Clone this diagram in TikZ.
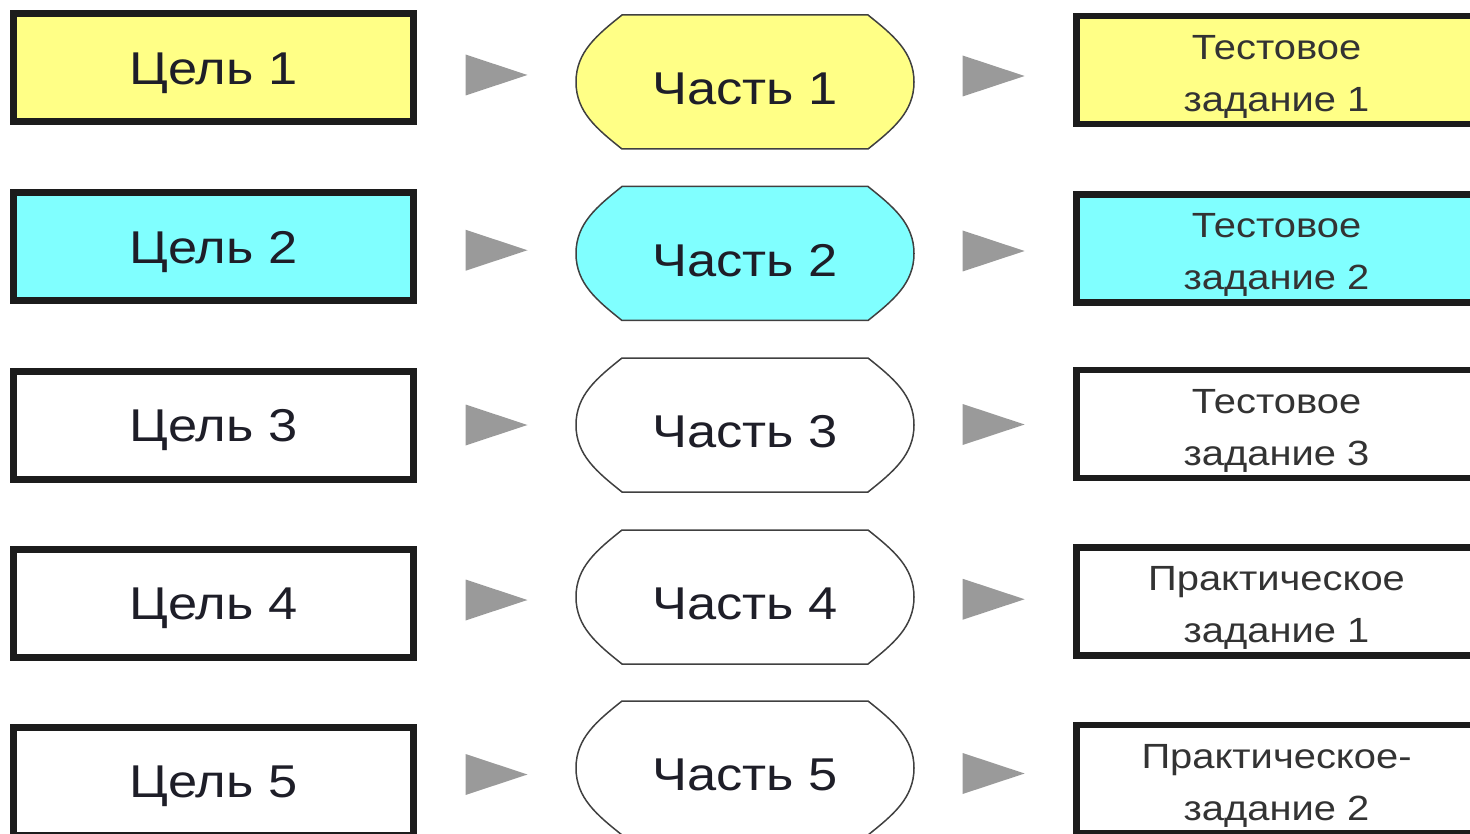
\documentclass[tikz,border=0pt]{standalone}
\usepackage{fontspec}
\setmainfont{Liberation Sans}
\usetikzlibrary{calc,backgrounds}
\definecolor{yel}{HTML}{FFFF86}
\definecolor{cya}{HTML}{80FFFF}
\definecolor{frame}{HTML}{1C1C1C}
\definecolor{txt}{HTML}{1E1E28}
\definecolor{txtb}{HTML}{333333}
\definecolor{arr}{HTML}{9A9A9A}
\newcommand{\hstretch}[1]{\scalebox{1.14}[1]{#1}}
\newcommand{\goaltxt}[1]{\raisebox{-5pt}[\height][\depth]{\hstretch{#1}}}
\newcommand{\parttxt}[1]{\raisebox{-7pt}[\height][\depth]{\hstretch{#1}}}
\newcommand{\tasktxt}[2]{\raisebox{-5pt}[\height][\depth]{\hstretch{\begin{tabular}{@{}c@{}}#1\\#2\end{tabular}}}}
\newcommand{\partoutline}[2]{%
  \begin{pgfonlayer}{background}
  \draw[partline,fill=#2]
    ($(#1.north west)+(46,0)$) -- ($(#1.north east)+(-46,0)$)
    .. controls ($(#1.north east)+(-21,20)$) and ($(#1.east)+(0,-30)$) .. (#1.east)
    .. controls ($(#1.east)+(0,30)$) and ($(#1.south east)+(-21,-20)$) .. ($(#1.south east)+(-46,0)$)
    -- ($(#1.south west)+(46,0)$)
    .. controls ($(#1.south west)+(21,-20)$) and ($(#1.west)+(0,30)$) .. (#1.west)
    .. controls ($(#1.west)+(0,-30)$) and ($(#1.north west)+(21,20)$) .. ($(#1.north west)+(46,0)$)
    -- cycle;
  \end{pgfonlayer}}
\newcommand{\arrowtri}[1]{%
  \fill[arr] ($(#1)+(-31,-20.5)$) -- ($(#1)+(31,0)$) -- ($(#1)+(-31,20.5)$) -- cycle;}
\begin{document}
\begin{tikzpicture}[x=1pt,y=-1pt,
  goalbox/.style={draw=frame,line width=7pt,minimum width=400pt,minimum height=108pt,
    inner sep=0pt,outer sep=3.5pt,text=txt,font=\fontsize{46}{50}\selectfont},
  taskbox/.style={draw=frame,line width=6.5pt,minimum width=400pt,minimum height=108pt,
    inner sep=0pt,outer sep=3.25pt,text=txtb,align=center,font=\fontsize{35}{52}\selectfont},
  partnode/.style={minimum width=338pt,minimum height=134pt,inner sep=0pt,outer sep=0pt,
    text=txt,font=\fontsize{46}{50}\selectfont},
  partline/.style={draw=black!75,line width=1.5pt}]
\useasboundingbox (0,0) rectangle (1470,834);
\clip (0,0) rectangle (1470,834);

\node[goalbox,fill=yel] (c1) at (213.5,68) {\goaltxt{Цель 1}};
\node[goalbox,fill=cya] (c2) at (213.5,247) {\goaltxt{Цель 2}};
\node[goalbox,fill=white] (c3) at (213.5,425) {\goaltxt{Цель 3}};
\node[goalbox,fill=white] (c4) at (213.5,603) {\goaltxt{Цель 4}};
\node[goalbox,fill=white] (c5) at (213.5,781) {\goaltxt{Цель 5}};

\node[partnode] (p1) at (745,82) {\parttxt{Часть 1}};
\node[partnode] (p2) at (745,253.5) {\parttxt{Часть 2}};
\node[partnode] (p3) at (745,425) {\parttxt{Часть 3}};
\node[partnode] (p4) at (745,597) {\parttxt{Часть 4}};
\node[partnode] (p5) at (745,768) {\parttxt{Часть 5}};
\partoutline{p1}{yel}
\partoutline{p2}{cya}
\partoutline{p3}{white}
\partoutline{p4}{white}
\partoutline{p5}{white}

\node[taskbox,fill=yel] (t1) at (1276.5,70) {\tasktxt{Тестовое}{задание 1}};
\node[taskbox,fill=cya] (t2) at (1276.5,248.5) {\tasktxt{Тестовое}{задание 2}};
\node[taskbox,fill=white] (t3) at (1276.5,424) {\tasktxt{Тестовое}{задание 3}};
\node[taskbox,fill=white] (t4) at (1276.5,601.5) {\tasktxt{Практическое}{задание 1}};
\node[taskbox,fill=white] (t5) at (1276.5,779) {\tasktxt{Практическое-}{задание 2}};

\foreach \i in {1,...,5}{
  \coordinate (a\i) at ($(c\i.east)!0.5!(p\i.west)$);
  \coordinate (b\i) at ($(p\i.east)!0.5!(t\i.west)$);
  \arrowtri{a\i}
  \arrowtri{b\i}
}
\end{tikzpicture}
\end{document}
